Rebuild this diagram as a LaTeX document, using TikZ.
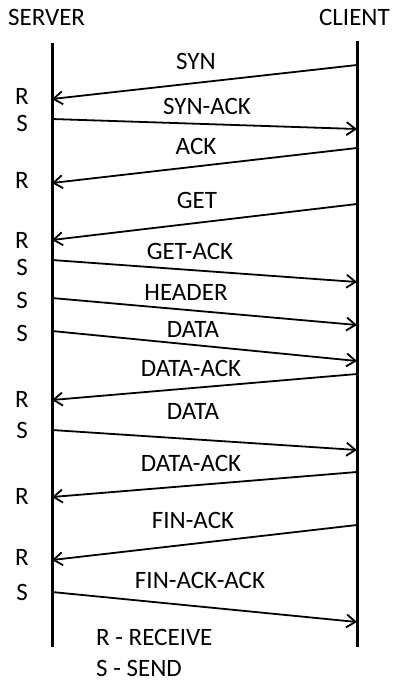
\documentclass[tikz,border=0pt]{standalone}
\usepackage{fontspec}
\setmainfont{Carlito}
\usetikzlibrary{arrows.meta}
\begin{document}
\begin{tikzpicture}[x=1pt,y=-1pt,
  lifeline/.style={line width=3pt},
  msg/.style={line width=1.8pt,-{Straight Barb[length=9pt,width=13pt,line width=1.8pt]}},
  lbl/.style={anchor=base,inner sep=0pt,font=\fontsize{25}{28}\selectfont},
  side/.style={anchor=base,inner sep=0pt,font=\fontsize{25}{28}\selectfont}]
\useasboundingbox (0,0) rectangle (395,681);
% titles
\node[side,anchor=base west] (srv) at (8,25) {SERVER};
\node[side,anchor=base east] (cli) at (390,25) {CLIENT};
% lifelines
\coordinate (sT) at (52,43);  \coordinate (sB) at (52,647);
\coordinate (cT) at (357,41); \coordinate (cB) at (357,647);
\draw[lifeline] (sT) -- (sB);
\draw[lifeline] (cT) -- (cB);
% message end points
\coordinate (c1) at (357,65);  \coordinate (s1) at (52,99);
\coordinate (s2) at (52,119);  \coordinate (c2) at (357,129);
\coordinate (c3) at (357,148); \coordinate (s3) at (52,183);
\coordinate (c4) at (357,204); \coordinate (s4) at (52,240);
\coordinate (s5) at (52,260);  \coordinate (c5) at (357,282);
\coordinate (s6) at (52,298);  \coordinate (c6) at (357,325);
\coordinate (s7) at (52,331);  \coordinate (c7) at (357,361);
\coordinate (c8) at (357,374); \coordinate (s8) at (52,400);
\coordinate (s9) at (52,430);  \coordinate (c9) at (357,450);
\coordinate (c10) at (357,472); \coordinate (s10) at (52,497);
\coordinate (c11) at (357,525); \coordinate (s11) at (52,560);
\coordinate (s12) at (52,592); \coordinate (c12) at (357,622);
% messages
\draw[msg] (c1) -- (s1);
\draw[msg] (s2) -- (c2);
\draw[msg] (c3) -- (s3);
\draw[msg] (c4) -- (s4);
\draw[msg] (s5) -- (c5);
\draw[msg] (s6) -- (c6);
\draw[msg] (s7) -- (c7);
\draw[msg] (c8) -- (s8);
\draw[msg] (s9) -- (c9);
\draw[msg] (c10) -- (s10);
\draw[msg] (c11) -- (s11);
\draw[msg] (s12) -- (c12);
% message labels
\node[lbl] (m1) at (196,69) {SYN};
\node[lbl] (m2) at (207,114) {SYN-ACK};
\node[lbl] (m3) at (196,154) {ACK};
\node[lbl] (m4) at (197,208) {GET};
\node[lbl] (m5) at (190,259) {GET-ACK};
\node[lbl] (m6) at (186,300) {HEADER};
\node[lbl] (m7) at (193,337) {DATA};
\node[lbl] (m8) at (191,376) {DATA-ACK};
\node[lbl] (m9) at (193,419) {DATA};
\node[lbl] (m10) at (191,471) {DATA-ACK};
\node[lbl] (m11) at (193,528) {FIN-ACK};
\node[lbl] (m12) at (200,588) {FIN-ACK-ACK};
% receive / send marks at the server
\node[side] (e1) at (22,104) {R};
\node[side] (e2) at (22,131) {S};
\node[side] (e3) at (22,188) {R};
\node[side] (e4) at (22,248) {R};
\node[side] (e5) at (22,275) {S};
\node[side] (e6) at (22,308) {S};
\node[side] (e7) at (22,341) {S};
\node[side] (e8) at (22,407) {R};
\node[side] (e9) at (22,438) {S};
\node[side] (e10) at (22,504) {R};
\node[side] (e11) at (22,565) {R};
\node[side] (e12) at (22,600) {S};
% legend
\node[side,anchor=base west] (k1) at (96,645) {R - RECEIVE};
\node[side,anchor=base west] (k2) at (96,676) {S - SEND};
\end{tikzpicture}
\end{document}
